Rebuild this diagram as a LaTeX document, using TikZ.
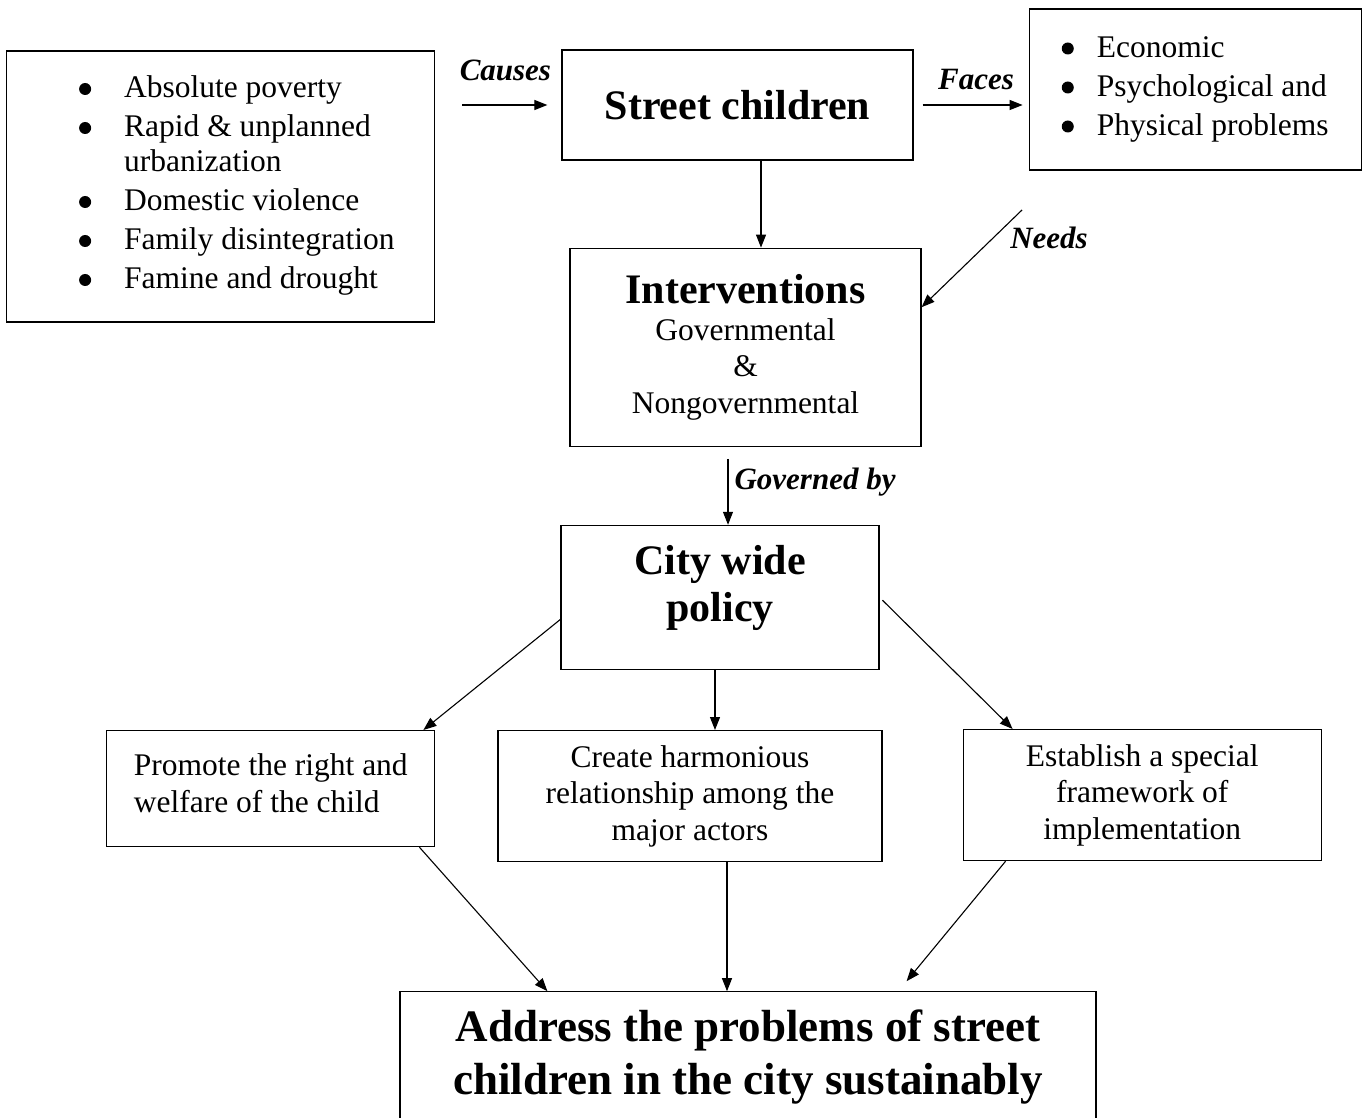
\documentclass[tikz,border=0pt]{standalone}
\usepackage{fontspec}
\setmainfont{Liberation Serif}
\usetikzlibrary{positioning, arrows.meta}

\newcommand{\bodysize}{\fontsize{31.5}{36.5}\selectfont}
\newcommand{\headsize}{\fontsize{42}{47}\selectfont\bfseries}
\newcommand{\dotmark}{\tikz[baseline=-9pt]\fill (0pt,0pt) circle (6pt);}

\tikzset{
    box/.style={draw, line width=1.2pt, inner sep=0pt, align=center, font=\bodysize},
    head/.style={box, font=\headsize},
    verb/.style={font=\fontsize{31}{36}\selectfont\bfseries\itshape, inner sep=3pt},
    flow/.style={-{Triangle[length=13pt, width=10pt]}, line width=1.1pt},
}

\begin{document}
\begin{tikzpicture}[x=1pt, y=-1pt]
    \useasboundingbox (0,0) rectangle (1363,1118);
    \clip (0,0) rectangle (1363,1118);

    \node[head, minimum width=351pt, minimum height=110pt] (street) at (737.5,105) {Street children};
    \node[box, minimum width=428pt, minimum height=271pt, font=\fontsize{31.5}{35}\selectfont,
          left=126pt of street.north west, anchor=north east, yshift=-1pt] (causes)
        {\begin{tabular}{@{\hspace{32pt}}l@{\hspace{33pt}}l@{}}
            \dotmark & Absolute poverty\\[4pt]
            \dotmark & Rapid \& unplanned\\
                     & urbanization\\[4pt]
            \dotmark & Domestic violence\\[4pt]
            \dotmark & Family disintegration\\[4pt]
            \dotmark & Famine and drought
        \end{tabular}};
    \node[box, minimum width=332pt, minimum height=161pt, font=\fontsize{31.5}{35}\selectfont,
          right=115pt of street.north east, anchor=north west, yshift=41pt] (faces)
        {\begin{tabular}{@{}l@{\hspace{23pt}}l@{}}
            \dotmark & Economic\\[4pt]
            \dotmark & Psychological and\\[4pt]
            \dotmark & Physical problems
        \end{tabular}};
    \node[box, minimum width=351pt, minimum height=198pt,
          below=87pt of street, xshift=8pt] (interv)
        {{\headsize Interventions}\\ Governmental\\ \&\\ Nongovernmental};
    \node[head, minimum width=318pt, minimum height=144pt, text depth=27pt,
          below=78pt of interv, xshift=-25.5pt] (policy) {City wide\\ policy};
    \node[box, minimum width=384pt, minimum height=131pt,
          below=60pt of policy, xshift=-30pt] (create)
        {Create harmonious\\ relationship among the\\ major actors};
    \node[box, align=left, minimum width=328pt, minimum height=116pt, text depth=11pt,
          left=62pt of create.north west, anchor=north east] (promote)
        {Promote the right and\\ welfare of the child};
    \node[box, minimum width=358pt, minimum height=131pt,
          right=80pt of create.north east, anchor=north west, yshift=1pt] (establish)
        {Establish a special\\ framework of\\ implementation};
    \node[box, font=\fontsize{45}{53}\selectfont\bfseries, minimum width=696pt, minimum height=130pt,
          below=129pt of create, xshift=58pt] (address)
        {Address the problems of street\\ children in the city sustainably};

    \coordinate (needsfrom) at (1022,210);
    \node[verb] (needslbl) at (1049,238) {Needs};

    \draw[flow, shorten <=27pt, shorten >=14pt] (causes.east |- street.west) -- (street.west)
        node[verb, midway, above=21pt, xshift=7pt] (causeslbl) {Causes};
    \draw[flow, shorten <=9pt, shorten >=6pt] (street.east) -- (street.east -| faces.west)
        node[verb, midway, above=12pt, xshift=5pt] (faceslbl) {Faces};
    \draw[flow] ([xshift=23.5pt]street.south) -- ([xshift=15.5pt]interv.north);
    \draw[flow] (needsfrom) -- ([yshift=40pt]interv.east);
    \draw[flow, shorten <=12pt] ([xshift=-17.5pt]interv.south) -- ([xshift=8pt]policy.north)
        node[verb, pos=0.45, right=3pt] (govlbl) {Governed by};
    \draw[flow] ([yshift=-22pt]policy.west) -- ([xshift=-12pt]promote.north east);
    \draw[flow] ([xshift=-5pt]policy.south) -- ([xshift=25pt]create.north);
    \draw[flow, shorten <=4pt] (policy.east) -- ([xshift=50pt]establish.north west);
    \draw[flow] ([xshift=-16pt]promote.south east) -- ([xshift=148pt]address.north west);
    \draw[flow] ([xshift=37pt]create.south) -- ([xshift=-21pt]address.north);
    \draw[flow] ([xshift=43pt]establish.south west) -- ([xshift=-190pt, yshift=10pt]address.north east);
\end{tikzpicture}
\end{document}
